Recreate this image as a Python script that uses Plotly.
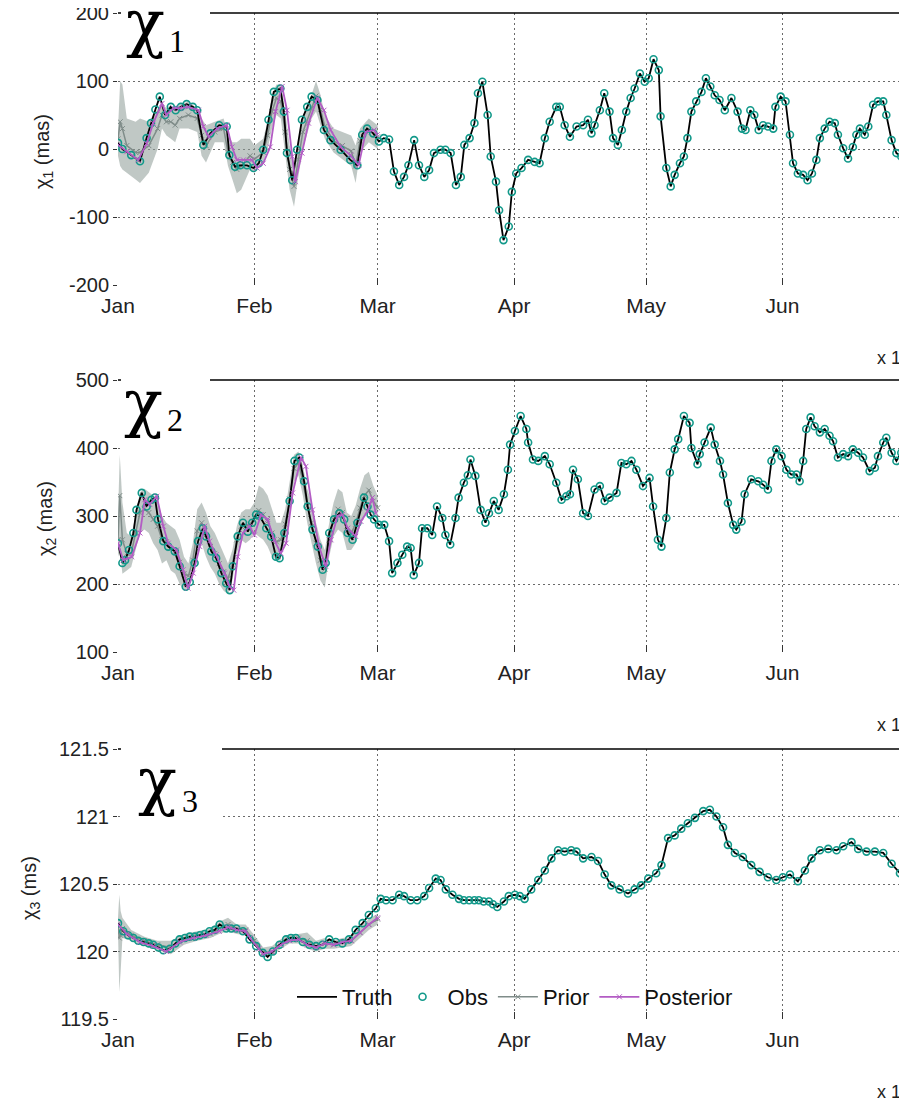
import pandas as pd
import plotly.graph_objects as go

# ---------------- data (day offsets from 1 Jan) ----------------
BASE = pd.Timestamp("2013-01-01")
MONTHS = ["Jan", "Feb", "Mar", "Apr", "May", "Jun"]
MONTH_START_DAYS = [0, 31, 59, 90, 120, 151]

# chi1 (mas)
chi1_days = [0, 1, 3, 5, 6.5, 7.5, 8.5, 9.5, 10.7, 12, 13.1, 14.3, 15.6, 17, 18, 19.4, 21, 23, 24.7, 25.3,
             26.6, 27.8, 29.3, 30.8, 32, 33, 34.2, 35.4, 36.9, 37.7, 38.4, 39.6, 40.7, 41.8, 43, 44, 45.3,
             46.8, 48.3, 50.6, 52.8, 54.4, 55.5, 56.6, 58, 59.3, 60.4, 61.6, 62.7, 63.9, 65, 66, 67.3, 68.4,
             69.6, 70.7, 71.8, 73.3, 74.4, 75.6, 76.8, 77.9, 78.7, 79.9, 81, 81.8, 82.8, 84, 84.7, 85.9, 86.6,
             87.6, 88.8, 89.5, 90.5, 91.7, 93.2, 94.7, 95.8, 97, 98.1, 99.6, 100.4, 101.5, 102.7, 104.2, 105.7,
             106.8, 107.6, 108.3, 109.5, 110.5, 111.7, 112.5, 113.6, 114.5, 115.5, 116.5, 117.4, 118.6, 119.7,
             120.6, 121.7, 122.9, 123.3, 124.6, 125.6, 126.5, 127.7, 128.6, 129.4, 130.3, 131.4, 132.6, 133.6,
             134.6, 135.6, 136.7, 137.9, 139.4, 140.8, 141.8, 142.6, 143.7, 144.6, 145.6, 146.6, 147.7, 148.9,
             149.4, 150.6, 151.7, 152.7, 153.4, 154.5, 155.7, 156.7, 157.7, 158.7, 159.5, 160.6, 161.7, 162.9,
             163.6, 164.8, 165.9, 167, 167.8, 168.6, 169.7, 170.5, 171.6, 172.7, 173.9, 174.6, 175.8, 176.9,
             178, 178.8, 179.8]
chi1_obs = [9, 0, -9, -18, 16, 38, 58, 77, 50, 62, 57, 62, 66, 62, 57, 6, 23, 35, 33, -9,
            -26, -24, -24, -28, -21, -1, 43, 84, 89, 55, -6, -46, -1, 43, 62, 77, 72,
            28, 13, -1, -16, -24, 21, 30, 23, 11, 16, 14, -33, -53, -41, -24, 13, -24,
            -41, -31, -6, -1, -1, -6, -53, -41, 6, 16, 38, 82, 99, 50, -11, -48, -90,
            -134, -114, -63, -36, -28, -16, -19, -21, 16, 40, 62, 62, 35, 18, 33, 35,
            43, 23, 35, 57, 82, 55, 16, 6, 28, 55, 75, 89, 111, 99,
            104, 132, 116, 48, -28, -55, -38, -21, -11, 16, 55, 70, 84, 104,
            92, 79, 72, 57, 75, 55, 30, 28, 57, 50, 28, 35, 33, 30,
            62, 77, 70, 21, -21, -36, -38, -46, -36, -16, 16, 30, 40, 38,
            21, 1, -14, 3, 21, 30, 21, 33, 65, 70, 70, 50, 13, -6,
            -11, 13, 18]
chi1_post_days = [0, 2, 4.6, 6.5, 8, 10, 11, 12.6, 14, 16, 18.3, 19.4, 20.6, 22.5, 24.7, 25.9, 27, 28.5, 30.4,
                  31.6, 33, 34.6, 35.8, 37.3, 38.4, 39.6, 40.3, 41.8, 43.3, 45.3, 46.8, 48.3, 50.6, 52.8, 54.7,
                  56.3, 58.2, 58.9]
chi1_post = [6, -4, -16, 8, 38, 67, 50, 60, 60, 62, 57, 33, 18, 30, 35, 3, -16, -16, -16,
             -28, -21, 3, 55, 92, 57, -11, -48, -6, 38, 75, 57, 28, 3, -9, -24,
             25, 28, 21]
chi1_prior_days = [0, 0.5, 1, 2, 4, 5, 7, 9, 10, 11, 12, 13, 14, 16, 18, 19, 20, 22, 24, 25, 26, 27, 28, 30, 31,
                   33, 34, 35, 36, 37, 38, 39, 40, 41, 42, 44, 45, 46, 47, 49, 51, 53, 54, 55, 57, 59]
chi1_prior = [15, 40, 30, 5, -5, -5, 5, 30, 50, 40, 40, 35, 45, 50, 45, 20, 5, 25, 30, -5, -20, -30, -25, -10, -15,
              -5, 20, 55, 75, 70, 25, -30, -55, -15, 25, 60, 78, 58, 33, 12, 5, -3, -25, 12, 28, 18]
chi1_prior_hi = [30, 100, 95, 45, 40, 45, 40, 60, 68, 60, 65, 55, 65, 70, 60, 45, 35, 40, 45, 20, 10, 10, 15, 15, 5,
                 15, 40, 80, 95, 95, 55, 5, -20, 10, 45, 80, 100, 80, 50, 30, 25, 20, 5, 30, 45, 35]
chi1_prior_lo = [-10, -25, -30, -35, -45, -50, -35, 0, 30, 20, 15, 10, 30, 30, 25, -10, -20, 10, 10, -25, -45, -65,
                 -60, -30, -35, -20, 0, 30, 50, 45, -10, -60, -85, -40, 0, 45, 55, 35, 15, -5, -15, -25, -50, -5,
                 10, 0]

# chi2 (mas)
chi2_days = [0, 1, 1.6, 2.5, 3.5, 4.2, 5.4, 6.5, 7.6, 8.4, 9.1, 10.3, 11.4, 12.9, 14, 15.4, 16.3, 17.4, 18.2, 19.3,
             20, 21.2, 22.3, 23.5, 24.6, 25.4, 26.1, 27.2, 28.4, 29.5, 30.5, 31.4, 32.2, 33.7, 34.8, 35.9, 36.7,
             37.8, 39, 40.1, 41.2, 42.3, 43.1, 44.2, 45.4, 46.5, 47.2, 48, 49.1, 50.3, 51.4, 52.2, 53.3, 54.4, 55.9,
             56.7, 57.4, 58.2, 59.3, 60.5, 61.6, 62.3, 63.5, 64.6, 65.7, 66.5, 67.2, 68.4, 69.1, 70.3, 71.4, 72.5,
             73.7, 74.4, 75.5, 76.7, 77.4, 78.6, 79.5, 80.1, 81.2, 82.4, 83.5, 84.3, 85.4, 86.5, 87.7, 88.6, 89.1,
             90.2, 91.5, 92.8, 93.2, 94.3, 95.5, 97, 98.1, 99.6, 100.8, 101.9, 102.7, 103.4, 104.5, 105.7, 106.8,
             108.3, 109.5, 110.6, 111.7, 113.3, 114.4, 115.5, 116.7, 117.8, 119.3, 120.8, 121.6, 122.7, 123.5,
             124.6, 125.4, 126.5, 127.3, 128.6, 129.9, 130.3, 131.7, 132.2, 133.3, 134.7, 135.6, 136.8, 137.5,
             138.6, 139.8, 140.5, 141.7, 142.4, 143.9, 145.5, 146.6, 147.7, 148.5, 149.6, 150.8, 151.9, 153,
             154.2, 154.9, 155.7, 156.4, 157.4, 158.3, 159.5, 160.6, 161.7, 162.5, 163.6, 164.8, 165.9, 167,
             168.2, 169.3, 170.8, 172, 172.7, 173.9, 174.6, 175.8, 176.9, 178, 179.5]
chi2_obs = [260, 231, 235, 250, 275, 309, 334, 314, 324, 327, 295, 263, 255, 248, 226, 196, 203, 231, 263, 282,
            270, 248, 238, 216, 201, 191, 226, 270, 290, 277, 290, 302, 300, 282, 270, 240, 238,
            275, 322, 381, 386, 351, 314, 280, 255, 221, 231, 275, 295, 304, 295, 275, 265, 290, 327,
            314, 302, 295, 287, 287, 263, 216, 231, 243, 255, 253, 213, 231, 282, 282, 272, 314,
            297, 272, 258, 297, 327, 349, 360, 383, 359, 309, 290, 304, 322, 309, 332, 368, 405,
            425, 447, 428, 408, 383, 381, 388, 376, 349, 324, 329, 332, 368, 354, 304, 300,
            339, 344, 322, 327, 334, 378, 376, 381, 368, 344, 356, 314, 265, 255,
            297, 364, 398, 413, 447, 437, 400, 376, 391, 408, 430, 405, 381, 361,
            319, 287, 280, 292, 332, 354, 351, 346, 339, 381, 398, 388, 368, 361,
            361, 351, 381, 428, 445, 432, 423, 428, 418, 410, 386, 391, 388, 398,
            393, 386, 366, 371, 388, 408, 415, 393, 381, 393, 403]
chi2_post_days = [0, 1.2, 3.1, 5, 6.1, 7.2, 8.8, 10.3, 11.4, 13.3, 14.8, 15.9, 17.1, 18.6, 19.7, 20.8, 22.3, 24.2,
                  25.4, 26.3, 27.2, 28.4, 29.9, 31, 32.5, 34, 35.5, 37, 38.2, 39.7, 41.6, 42.7, 44.2, 45.7, 47.2,
                  48.4, 49.9, 51, 52.2, 54, 55.2, 56.7, 57.8, 58.6]
chi2_post = [260, 235, 240, 275, 324, 317, 329, 285, 260, 250, 221, 194, 216, 255, 285, 263, 243, 216,
             196, 191, 240, 275, 285, 272, 302, 295, 265, 245, 260, 334, 386, 373, 309, 255, 226,
             265, 300, 302, 282, 270, 292, 307, 327, 304]
chi2_prior_days = [0, 0.4, 1, 2, 3, 4, 5, 6, 7, 8, 9, 10, 11, 12, 13, 14, 15, 16, 17, 18, 19, 20, 21, 22, 23, 24, 25,
                   26, 27, 28, 29, 30, 31, 32, 33, 34, 35, 36, 37, 38, 39, 40, 41, 42, 43, 44, 45, 46, 47, 48, 49,
                   50, 51, 52, 53, 54, 55, 56, 57, 58, 59]
chi2_prior = [265, 330, 265, 245, 245, 275, 305, 310, 305, 295, 285, 265, 262, 252, 248, 232, 215, 212, 235, 278,
              290, 272, 255, 245, 230, 218, 208, 228, 265, 285, 285, 288, 298, 308, 302, 292, 275, 262, 265, 288,
              325, 370, 378, 352, 315, 290, 260, 235, 222, 265, 295, 310, 305, 278, 275, 288, 312, 330, 338, 322,
              312]
chi2_prior_hi = [300, 390, 320, 275, 270, 300, 335, 340, 335, 330, 320, 300, 290, 285, 280, 265, 240, 230, 260, 310,
                 320, 305, 285, 275, 260, 245, 230, 250, 285, 305, 310, 310, 320, 345, 340, 330, 310, 290, 290, 310,
                 350, 390, 395, 375, 340, 320, 290, 265, 250, 290, 320, 340, 335, 305, 300, 315, 340, 360, 365, 345,
                 330]
chi2_prior_lo = [240, 250, 215, 220, 225, 250, 275, 280, 275, 260, 250, 230, 235, 220, 215, 200, 190, 195, 210, 245,
                 260, 240, 225, 215, 200, 190, 185, 205, 245, 265, 260, 265, 275, 270, 265, 255, 240, 235, 240, 265,
                 300, 350, 360, 330, 290, 260, 230, 205, 195, 240, 270, 280, 275, 250, 250, 260, 285, 300, 310, 300,
                 295]

# chi3 (ms)
chi3_days = [0, 1.2, 2.3, 3.5, 4.6, 5.8, 7, 8, 9.2, 10.3, 11.8, 13, 14, 15.2, 16.3, 17.5, 18.6, 19.7, 20.8, 22, 23.1,
             24.6, 25.7, 26.9, 28.4, 29.9, 31.4, 32.9, 34, 35.2, 36.7, 38.2, 39.3, 40.4, 42, 43.5, 45, 46.5, 48,
             49.5, 51, 52.5, 54, 55.6, 57, 58.6, 59.7, 60.9, 62.4, 63.9, 65, 66.5, 68, 69.6, 70.7, 72.2, 73.3,
             74.5, 76, 77.5, 78.6, 79.8, 81, 82, 83.1, 84.3, 85.2, 86.2, 87.7, 88.8, 90.2, 91.3, 92.4, 93.9, 95.5,
             97, 98.5, 100, 101.5, 103, 104.2, 105.7, 107.6, 109.1, 110.6, 112.1, 114, 115.9, 117.4, 118.9, 120.5,
             122.3, 123.5, 125, 126.5, 128, 129.5, 131.1, 133, 134.5, 136, 137.5, 138.6, 140.2, 142, 143.9, 145.8,
             147.7, 149.6, 151.1, 152.7, 154.5, 156.1, 157.6, 159.5, 161.4, 163.3, 164.8, 166.7, 168.2, 170.1,
             172, 173.9, 175.8, 177.7, 179.2]
chi3_obs = [120.21, 120.15, 120.12, 120.10, 120.08, 120.07, 120.06, 120.05, 120.03, 120.01, 120.02, 120.06, 120.09,
            120.10, 120.11, 120.11, 120.12, 120.13, 120.15, 120.16, 120.20, 120.17, 120.17, 120.17, 120.15, 120.09,
            120.04, 119.99, 119.96, 120.00, 120.05, 120.09, 120.10, 120.10, 120.07, 120.05, 120.04, 120.05, 120.09,
            120.07, 120.06, 120.09, 120.16, 120.21, 120.27, 120.32, 120.39, 120.38, 120.38, 120.42, 120.41, 120.38,
            120.38, 120.41, 120.47, 120.54, 120.53, 120.46, 120.42, 120.39, 120.38, 120.38, 120.38, 120.38, 120.37,
            120.37, 120.35, 120.33, 120.37, 120.41, 120.42, 120.41, 120.39, 120.46, 120.53, 120.60, 120.69, 120.75,
            120.74, 120.75, 120.74, 120.69, 120.70, 120.67, 120.57, 120.49, 120.46, 120.43, 120.46, 120.49, 120.54,
            120.58, 120.64, 120.84, 120.86, 120.91, 120.95, 120.99, 121.04, 121.05, 121.00, 120.92, 120.79, 120.73,
            120.70, 120.64, 120.59, 120.55, 120.53, 120.55, 120.57, 120.52, 120.60, 120.69, 120.75, 120.76, 120.75,
            120.78, 120.81, 120.76, 120.74, 120.74, 120.73, 120.65, 120.58, 120.54]
chi3_post_days = [0, 2, 5, 8, 11, 14, 17, 20, 23, 25, 27, 29, 30, 32, 33, 35, 37, 39, 41, 43, 45, 47, 49, 51, 53, 55,
                  57, 59]
chi3_post = [120.20, 120.13, 120.07, 120.04, 120.00, 120.07, 120.10, 120.12, 120.15, 120.18, 120.16, 120.15, 120.10,
             120.02, 119.98, 120.00, 120.05, 120.08, 120.09, 120.05, 120.03, 120.06, 120.05, 120.07, 120.08, 120.14,
             120.20, 120.25]
chi3_prior_days = [0, 0.3, 0.6, 1, 3, 6, 9, 12, 15, 18, 21, 23, 25, 27, 29, 31, 33, 35, 37, 39, 41, 43, 45, 47, 49,
                   51, 53, 55, 57, 59]
chi3_prior = [120.20, 120.10, 120.12, 120.17, 120.12, 120.08, 120.05, 120.03, 120.09, 120.11, 120.13, 120.17, 120.20,
              120.17, 120.16, 120.08, 119.99, 120.00, 120.05, 120.10, 120.10, 120.08, 120.04, 120.06, 120.05, 120.07,
              120.08, 120.14, 120.20, 120.24]
chi3_prior_hi = [120.25, 120.42, 120.30, 120.25, 120.16, 120.11, 120.08, 120.08, 120.13, 120.15, 120.17, 120.22,
                 120.25, 120.20, 120.20, 120.12, 120.03, 120.04, 120.09, 120.13, 120.13, 120.14, 120.08, 120.10,
                 120.08, 120.10, 120.11, 120.18, 120.24, 120.28]
chi3_prior_lo = [120.15, 119.70, 119.85, 120.10, 120.08, 120.04, 120.01, 119.98, 120.05, 120.08, 120.10, 120.13,
                 120.15, 120.13, 120.12, 120.05, 119.96, 119.97, 120.02, 120.06, 120.06, 120.02, 120.00, 120.02,
                 120.02, 120.03, 120.04, 120.10, 120.16, 120.20]

# tick labels
Y1_TICKS = [-200, -100, 0, 100, 200]
Y2_TICKS = [100, 200, 300, 400, 500]
Y3_TICKS = [119.5, 120, 120.5, 121, 121.5]
Y1_LABELS = ["-200", "-100", "0", "100", "200"]
Y2_LABELS = ["100", "200", "300", "400", "500"]
Y3_LABELS = ["119.5", "120", "120.5", "121", "121.5"]

panels = [
    dict(days=chi1_days, obs=chi1_obs, pdays=chi1_post_days, post=chi1_post, qdays=chi1_prior_days,
         prior=chi1_prior, hi=chi1_prior_hi, lo=chi1_prior_lo, yrange=[-200, 200], tv=Y1_TICKS, tt=Y1_LABELS,
         ytitle="χ<sub>1</sub> (mas)", big="1"),
    dict(days=chi2_days, obs=chi2_obs, pdays=chi2_post_days, post=chi2_post, qdays=chi2_prior_days,
         prior=chi2_prior, hi=chi2_prior_hi, lo=chi2_prior_lo, yrange=[100, 500], tv=Y2_TICKS, tt=Y2_LABELS,
         ytitle="χ<sub>2</sub> (mas)", big="2"),
    dict(days=chi3_days, obs=chi3_obs, pdays=chi3_post_days, post=chi3_post, qdays=chi3_prior_days,
         prior=chi3_prior, hi=chi3_prior_hi, lo=chi3_prior_lo, yrange=[119.5, 121.5], tv=Y3_TICKS, tt=Y3_LABELS,
         ytitle="χ<sub>3</sub> (ms)", big="3"),
]

# ---------------- styling / layout ----------------
OFF = 8                     # page body margin in the browser
W, H = 907 - OFF, 1117 - OFF
ML = 118 - OFF
PW = W - ML
X_END_DAY = 179.3
PANEL_PX = [(13, 285), (380, 652), (749, 1019)]   # (top, bottom) page rows of each plot area
TEXT_FONT = "Liberation Sans, Arial, sans-serif"
XTICK_SIZE = 21
YTICK_SIZE = 20

C_TRUTH = "#000000"
C_OBS = "#12998a"
C_PRIOR = "#7f8c89"
C_BAND = "rgba(140,155,150,0.55)"
C_POST = "#b35cc4"
GRID = "#6a6a6a"


def dt(days):
    return [BASE + pd.Timedelta(days=float(d)) for d in days]


def px2x(px):
    return (px - OFF - ML) / PW


def px2y(py):
    return 1 - (py - OFF) / H


fig = go.Figure()
for i, p in enumerate(panels):
    xa = "x" if i == 0 else f"x{i+1}"
    ya = "y" if i == 0 else f"y{i+1}"
    show = (i == 2)
    qd = dt(p["qdays"])
    fig.add_trace(go.Scatter(x=qd + qd[::-1], y=p["hi"] + p["lo"][::-1], fill="toself", fillcolor=C_BAND,
                             line=dict(width=0), mode="lines", hoverinfo="skip", showlegend=False,
                             xaxis=xa, yaxis=ya))
    fig.add_trace(go.Scatter(x=qd, y=p["prior"], mode="lines+markers", name="Prior",
                             line=dict(color=C_PRIOR, width=1.5), marker=dict(symbol="x-thin", size=5,
                             line=dict(color=C_PRIOR, width=1)), showlegend=show, legendrank=3,
                             xaxis=xa, yaxis=ya))
    fig.add_trace(go.Scatter(x=dt(p["days"]), y=p["obs"], mode="lines", name="Truth",
                             line=dict(color=C_TRUTH, width=1.8), showlegend=show, legendrank=1,
                             xaxis=xa, yaxis=ya))
    fig.add_trace(go.Scatter(x=dt(p["days"]), y=p["obs"], mode="markers", name="Obs",
                             marker=dict(symbol="circle-open", size=7, color=C_OBS, line=dict(width=1.6)),
                             showlegend=show, legendrank=2, xaxis=xa, yaxis=ya))
    fig.add_trace(go.Scatter(x=dt(p["pdays"]), y=p["post"], mode="lines+markers", name="Posterior",
                             line=dict(color=C_POST, width=1.8), marker=dict(symbol="x-thin", size=5,
                             line=dict(color=C_POST, width=1)), showlegend=show, legendrank=4,
                             xaxis=xa, yaxis=ya))

layout = dict(
    width=W, height=H, autosize=False, margin=dict(l=ML, r=0, t=0, b=0, pad=0, autoexpand=False),
    paper_bgcolor="white", plot_bgcolor="white", showlegend=True,
    font=dict(family=TEXT_FONT, size=YTICK_SIZE, color="#222"),
    legend=dict(orientation="h", x=px2x(292), y=px2y(997), xanchor="left", yanchor="middle",
                bgcolor="rgba(0,0,0,0)", font=dict(size=22, color="#111"), itemwidth=40,
                traceorder="normal"),
)
shapes = []
annotations = []
tickvals = dt(MONTH_START_DAYS)
CHI_POS = [(145, 23), (143, 403), (157, 781)]
DIG_POS = [(167, 41), (165, 420), (180, 801)]
YT_POS = [(43, 152), (47, 519), (30, 888)]
for i, p in enumerate(panels):
    top, bot = PANEL_PX[i]
    xk = "xaxis" if i == 0 else f"xaxis{i+1}"
    yk = "yaxis" if i == 0 else f"yaxis{i+1}"
    xa = "x" if i == 0 else f"x{i+1}"
    ya = "y" if i == 0 else f"y{i+1}"
    layout[xk] = dict(domain=[0, 1], anchor=ya, range=[BASE, BASE + pd.Timedelta(days=X_END_DAY)],
                      tickvals=tickvals, ticktext=MONTHS, showgrid=True, gridcolor=GRID, griddash="2px,3px",
                      gridwidth=1, ticks="inside", ticklen=7, tickcolor="#333", showline=False,
                      zeroline=False, automargin=False, ticklabelstandoff=6, ticklabeloverflow="allow",
                      tickfont=dict(size=XTICK_SIZE, color="#222"))
    layout[yk] = dict(domain=[px2y(bot), px2y(top)], anchor=xa, range=p["yrange"], tickvals=p["tv"],
                      ticktext=p["tt"], showgrid=True, gridcolor=GRID, griddash="2px,3px", gridwidth=1,
                      ticks="outside", ticklen=4, tickcolor="#333", showline=False, zeroline=False,
                      automargin=False, ticklabelstandoff=0, ticklabeloverflow="allow",
                      tickfont=dict(size=YTICK_SIZE, color="#222"))
    # top border
    shapes.append(dict(type="line", xref="paper", yref="paper", x0=0, x1=1, y0=px2y(top), y1=px2y(top),
                       line=dict(color="black", width=1.6), layer="above"))
    # white box behind big label
    box_r = 222 if i == 2 else 210
    box_b = [72, 457, 822][i]
    shapes.append(dict(type="rect", xref="paper", yref="paper", x0=px2x(121), x1=px2x(box_r),
                       y0=px2y(box_b), y1=px2y(top - 6), fillcolor="white", line=dict(width=0), layer="above"))
    cx, cy = CHI_POS[i]
    annotations.append(dict(text="χ", xref="paper", yref="paper", x=px2x(cx), y=px2y(cy), showarrow=False,
                            font=dict(family="DejaVu Serif, serif", size=64, color="black"),
                            xanchor="center", yanchor="middle"))
    dx, dy = DIG_POS[i]
    annotations.append(dict(text=p["big"], xref="paper", yref="paper", x=px2x(dx), y=px2y(dy),
                            showarrow=False, xanchor="left", yanchor="middle",
                            font=dict(family="Liberation Serif, serif", size=32, color="black")))
    tx, ty = YT_POS[i]
    annotations.append(dict(text=p["ytitle"], xref="paper", yref="paper", x=px2x(tx), y=px2y(ty),
                            textangle=-90, showarrow=False, xanchor="center", yanchor="middle",
                            font=dict(size=20, color="#222")))
    # clipped "Jul" tick label and exponent label at right edge
    annotations.append(dict(text="Jul", xref="paper", yref="paper", x=px2x(916), y=px2y(bot + 20),
                            showarrow=False, xanchor="center", yanchor="middle",
                            font=dict(size=XTICK_SIZE, color="#222")))
    annotations.append(dict(text="x 10<sup>5</sup>", xref="paper", yref="paper", x=px2x(875),
                            y=px2y(bot + 71), showarrow=False, xanchor="left", yanchor="middle",
                            font=dict(size=18, color="#222")))

layout["shapes"] = shapes
layout["annotations"] = annotations
fig.update_layout(**layout)
fig.write_html("out.html")
